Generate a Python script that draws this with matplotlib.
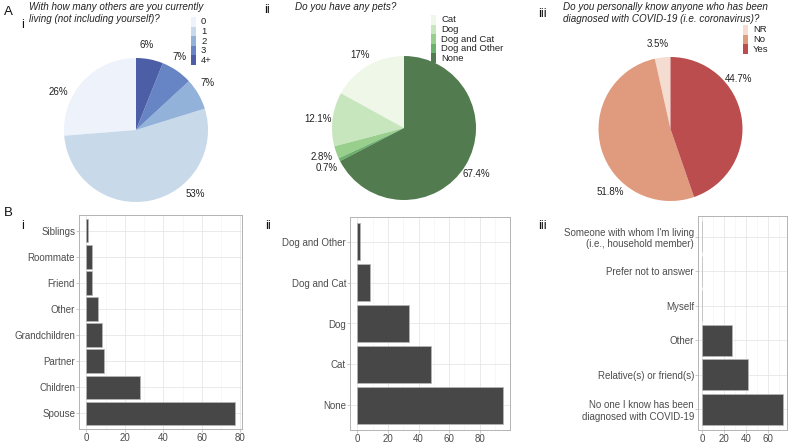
import matplotlib
matplotlib.use("Agg")
import matplotlib.pyplot as plt
from matplotlib.patches import Rectangle
import numpy as np

plt.rcParams['font.family'] = ['Liberation Sans', 'DejaVu Sans']

# ---------------- data ----------------
living_labels = ["0", "1", "2", "3", "4+"]
living_pct = [26, 53, 7, 7, 6]
living_pct_text = ["26%", "53%", "7%", "7%", "6%"]

pets_labels = ["Cat", "Dog", "Dog and Cat", "Dog and Other", "None"]
pets_pct = [17.0, 12.1, 2.8, 0.7, 67.4]
pets_pct_text = ["17%", "12.1%", "2.8%", "0.7%", "67.4%"]

covid_labels = ["NR", "No", "Yes"]
covid_pct = [3.5, 51.8, 44.7]
covid_pct_text = ["3.5%", "51.8%", "44.7%"]

# bar charts (bottom to top)
who_cats = ["Spouse", "Children", "Partner", "Grandchildren", "Other",
            "Friend", "Roommate", "Siblings"]
who_vals = [77, 28, 9, 8, 6, 3, 3, 1]

pet_cats = ["None", "Cat", "Dog", "Dog and Cat", "Dog and Other"]
pet_vals = [95, 48, 34, 8, 2]

known_cats = ["No one I know has been\ndiagnosed with COVID-19",
              "Relative(s) or friend(s)", "Other", "Myself",
              "Prefer not to answer",
              "Someone with whom I'm living\n(i.e., household member)"]
known_vals = [74, 42, 27, 0, 0, 0]

# ---------------- styles ----------------
blues = ["#eef2fb", "#c8d9ea", "#93b2da", "#6785c4", "#4b5ea6"]
greens = ["#eef7e8", "#c8e6be", "#98cf8c", "#6ab26a", "#527c50"]
reds = ["#f4ddd0", "#e09a7e", "#bc4d4f"]

W, H = 789, 444
fig = plt.figure(figsize=(W / 100, H / 100), dpi=100)


def fx(x):
    return x / W


def fy(y):
    return 1 - y / H


def ax_px(l, t, r, b):
    return fig.add_axes([l / W, 1 - b / H, (r - l) / W, (b - t) / H])


def pie_panel(cx, cy, r, vals, cols, texts, text_pos):
    ax = ax_px(cx - r, cy - r, cx + r, cy + r)
    ax.pie(vals, colors=cols, startangle=90, counterclock=True,
           wedgeprops=dict(linewidth=0))
    ax.set_xlim(-1, 1)
    ax.set_ylim(-1, 1)
    ax.axis('off')
    for t, (px, py) in zip(texts, text_pos):
        ax.text(px, py, t, ha='center', va='center', fontsize=7,
                color='#222222', clip_on=False)
    return ax


def legend_px(x, y, labels, cols, row=9.6, kw=5):
    for i, (lab, c) in enumerate(zip(labels, cols)):
        fig.add_artist(Rectangle((fx(x), fy(y + (i + 1) * row)), kw / W, row / H,
                                 transform=fig.transFigure, facecolor=c,
                                 edgecolor='none'))
        fig.text(fx(x + 10), fy(y + (i + 0.5) * row), lab, fontsize=6.8,
                 va='center', ha='left', color='#222222')


# Pie A-i
pie_panel(136, 130, 72, living_pct, blues, living_pct_text,
          [(-1.08, 0.53), (0.82, -0.89), (1.0, 0.65), (0.61, 1.01), (0.15, 1.18)])
legend_px(191, 17, living_labels, blues)

# Pie A-ii
pie_panel(404, 128, 72, pets_pct, greens, pets_pct_text,
          [(-0.61, 1.01), (-1.2, 0.125), (-1.14, -0.40), (-1.08, -0.55), (1.01, -0.64)])
legend_px(431, 15, pets_labels, greens)

# Pie A-iii
pie_panel(670.5, 129, 72, covid_pct, reds, covid_pct_text,
          [(-0.18, 1.18), (-0.83, -0.88), (0.94, 0.69)])
legend_px(743, 25, covid_labels, reds)

# Titles
tkw = dict(fontsize=7.1, style='italic', va='top', ha='left', color='#222222',
           linespacing=1.15)
fig.text(fx(29), fy(2.5), "With how many others are you currently\nliving (not including yourself)?", **tkw)
fig.text(fx(295), fy(2.5), "Do you have any pets?", **tkw)
fig.text(fx(563), fy(2.5), "Do you personally know anyone who has been\ndiagnosed with COVID-19 (i.e. coronavirus)?", **tkw)

# Panel labels
lkw = dict(fontsize=9.5, va='center', ha='left', color='#111111')
fig.text(fx(4), fy(12), "A", **lkw)
fig.text(fx(4), fy(213), "B", **lkw)
ikw = dict(fontsize=9, va='center', ha='left', color='#111111')
fig.text(fx(21), fy(25), "i", **ikw)
fig.text(fx(264), fy(10), "ii", **ikw)
fig.text(fx(538), fy(14), "iii", **ikw)
fig.text(fx(21), fy(226), "i", **ikw)
fig.text(fx(265), fy(226), "ii", **ikw)
fig.text(fx(538), fy(226), "iii", **ikw)


def bar_panel(box, cats, vals, major, minor, xmax):
    ax = ax_px(*box)
    y = np.arange(len(cats))
    ax.barh(y, vals, height=0.9, color='#474747', edgecolor='#b8b8b8',
            linewidth=0.5, zorder=3)
    ax.set_ylim(-0.6, len(cats) - 0.4)
    ax.set_xlim(-0.05 * xmax, 1.05 * xmax)
    ax.set_yticks(y)
    ax.set_yticklabels(cats, fontsize=7, color='#4d4d4d')
    ax.set_xticks(major)
    ax.set_xticklabels([str(v) for v in major], fontsize=7, color='#4d4d4d')
    ax.set_xticks(minor, minor=True)
    ax.tick_params(axis='both', which='major', length=2, width=0.5,
                   color='#b3b3b3', pad=0.8)
    ax.tick_params(axis='x', which='minor', length=0)
    ax.grid(True, which='major', color='#e6e6e6', linewidth=0.6, zorder=0)
    ax.grid(True, which='minor', axis='x', color='#f2f2f2', linewidth=0.4, zorder=0)
    ax.set_axisbelow(True)
    for s in ax.spines.values():
        s.set_color('#b3b3b3')
        s.set_linewidth(0.7)
    return ax


bar_panel((79, 215, 242, 429), who_cats, who_vals,
          [0, 20, 40, 60, 80], [10, 30, 50, 70], max(who_vals))
bar_panel((350, 217, 510, 430), pet_cats, pet_vals,
          [0, 20, 40, 60, 80], [10, 30, 50, 70, 90], max(pet_vals))
bar_panel((698, 216, 787, 430), known_cats, known_vals,
          [0, 20, 40, 60], [10, 30, 50, 70], max(known_vals))

fig.savefig("out.png", dpi=100)
